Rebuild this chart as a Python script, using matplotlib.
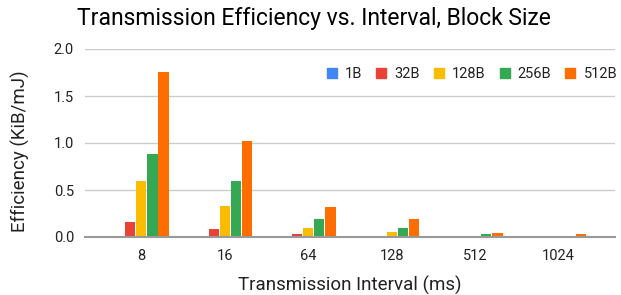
import matplotlib
matplotlib.use("Agg")
import matplotlib.pyplot as plt
from matplotlib.lines import Line2D
import numpy as np

intervals = ["8", "16", "64", "128", "512", "1024"]
series_names = ["1B", "32B", "128B", "256B", "512B"]
v_1B = [0.004, 0.004, 0.001, 0.0005, 0.0002, 0.0001]
v_32B = [0.163, 0.08, 0.027, 0.015, 0.005, 0.004]
v_128B = [0.60, 0.333, 0.10, 0.05, 0.012, 0.006]
v_256B = [0.886, 0.60, 0.19, 0.10, 0.035, 0.012]
v_512B = [1.76, 1.02, 0.32, 0.19, 0.045, 0.033]
values = [v_1B, v_32B, v_128B, v_256B, v_512B]
colors = ["#4285F4", "#EA4335", "#FBBC04", "#34A853", "#FF6D01"]
yticks = [0.0, 0.5, 1.0, 1.5, 2.0]

plt.rcParams['font.family'] = ['Roboto', 'DejaVu Sans']

W, H = 621, 295
fig = plt.figure(figsize=(W/100, H/100), dpi=100)
ax = fig.add_axes([85/W, (H-237)/H, (615-85)/W, (237-49)/H])

x = np.arange(len(intervals))
bw = 0.133
for i, (name, vals, c) in enumerate(zip(series_names, values, colors)):
    ax.bar(x + (i-2)*bw, vals, width=bw*0.92, color=c, label=name, zorder=3)

ax.set_xlim(-0.675, 5.675)
ax.set_ylim(0, 2.0)
ax.set_yticks(yticks)
ax.set_yticklabels([f"{t:.1f}" for t in yticks])
ax.set_xticks(x)
ax.set_xticklabels(intervals)
ax.tick_params(axis='both', length=0, labelsize=10.5, colors='#222222')
ax.tick_params(axis='y', pad=8)
ax.tick_params(axis='x', pad=9)
ax.grid(axis='y', color='#cccccc', lw=1, zorder=0)
for s in ['top', 'right', 'left']:
    ax.spines[s].set_visible(False)
ax.spines['bottom'].set_color('#999999')
ax.spines['bottom'].set_linewidth(1.5)
ax.spines['bottom'].set_zorder(4)

fig.text(350/W, 1 - 285/H, "Transmission Interval (ms)", fontsize=13.5,
         color='#222222', ha='center', va='center')
fig.text(20/W, 1 - 151/H, "Efficiency (KiB/mJ)", fontsize=13.5, rotation=90,
         color='#222222', ha='center', va='center')

fig.text(77/W, 1 - 18/H, "Transmission Efficiency vs. Interval, Block Size",
         fontsize=16.5, color='#000000', ha='left', va='center')

handles = [Line2D([], [], marker='s', ls='', markersize=7.5, color=c) for c in colors]
leg = fig.legend(handles, series_names, loc='center right', bbox_to_anchor=(623/W, 1 - 74/H),
                 ncol=5, frameon=False, fontsize=10.5, handlelength=0.8, handletextpad=0.5,
                 columnspacing=0.9, borderaxespad=0)
for t in leg.get_texts():
    t.set_color('#222222')

fig.savefig("out.png", dpi=100)
